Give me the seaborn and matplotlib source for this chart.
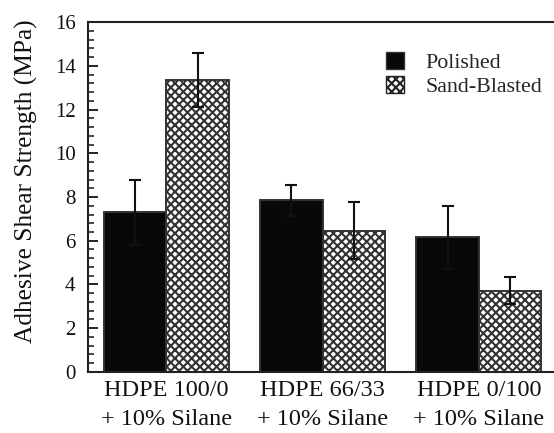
import matplotlib
matplotlib.use("Agg")
import matplotlib.pyplot as plt
from matplotlib.ticker import MultipleLocator, AutoMinorLocator
from matplotlib.patches import Patch
import seaborn as sns
import pandas as pd

# Data
categories = ["HDPE 100/0\n+ 10% Silane", "HDPE 66/33\n+ 10% Silane", "HDPE 0/100\n+ 10% Silane"]
surfaces = ["Polished", "Sand-Blasted"]
polished_mean = [7.3, 7.85, 6.15]
polished_err = [1.5, 0.72, 1.42]
sandblasted_mean = [13.35, 6.45, 3.72]
sandblasted_err = [1.25, 1.3, 0.63]

sns.set_theme(style="ticks")
plt.rcParams["font.family"] = ["Liberation Serif", "DejaVu Serif"]
plt.rcParams["hatch.linewidth"] = 1.5
plt.rcParams["hatch.color"] = "black"

df = pd.DataFrame({
    "Blend": categories * 2,
    "Surface": [surfaces[0]] * 3 + [surfaces[1]] * 3,
    "Strength": polished_mean + sandblasted_mean,
    "Err": polished_err + sandblasted_err,
})

fig = plt.figure(figsize=(5.54, 4.33), dpi=100)
ax = fig.add_axes([0.159, 0.141, 0.8466, 0.808])

sns.barplot(data=df, x="Blend", y="Strength", hue="Surface", order=categories,
            hue_order=surfaces, palette=["#080808", "white"], edgecolor="#333333",
            linewidth=1.4, errorbar=None, width=0.8, legend=False, ax=ax)

bars = list(ax.patches)
n = len(categories)
for p in bars[n:2 * n]:
    p.set_hatch("xxxx")
    p.set_facecolor("white")

# symmetric error bars centred on each bar
for p, m, e in zip(bars, polished_mean + sandblasted_mean, polished_err + sandblasted_err):
    xc = p.get_x() + p.get_width() / 2
    ax.errorbar(xc, m, yerr=e, fmt="none", ecolor="#111111", elinewidth=1.5,
                capsize=4.4, capthick=1.5, zorder=5)

ax.set_xlim(-0.5, 2.5)
ax.set_ylim(0, 16)
ax.yaxis.set_major_locator(MultipleLocator(2))
ax.yaxis.set_minor_locator(AutoMinorLocator(5))
ax.tick_params(axis="y", which="major", direction="in", length=7, width=1.3,
               labelsize=15, pad=9, colors="#111111")
ax.tick_params(axis="y", which="minor", direction="in", length=4, width=1.2)
ax.tick_params(axis="x", length=0, labelsize=17.5, pad=6, colors="#111111")
for lab in ax.get_xticklabels():
    lab.set_linespacing(1.5)

ax.set_xlabel("")
ax.set_ylabel("Adhesive Shear Strength (MPa)", fontsize=18.3, color="#111111")
ax.yaxis.set_label_coords(-0.106, 0.546)

for side in ["left", "bottom", "top", "right"]:
    ax.spines[side].set_visible(True)
    ax.spines[side].set_linewidth(1.5)
    ax.spines[side].set_color("#222222")

handles = [Patch(facecolor="#080808", edgecolor="#333333"),
           Patch(facecolor="white", edgecolor="#222222", hatch="xxxx")]
ax.legend(handles, surfaces, loc="upper left", bbox_to_anchor=(0.617, 0.94),
          frameon=False, fontsize=15.8, handlelength=0.8, handleheight=0.8,
          handletextpad=1.0, labelspacing=0.15, borderaxespad=0)

fig.savefig("out.png", dpi=100)
